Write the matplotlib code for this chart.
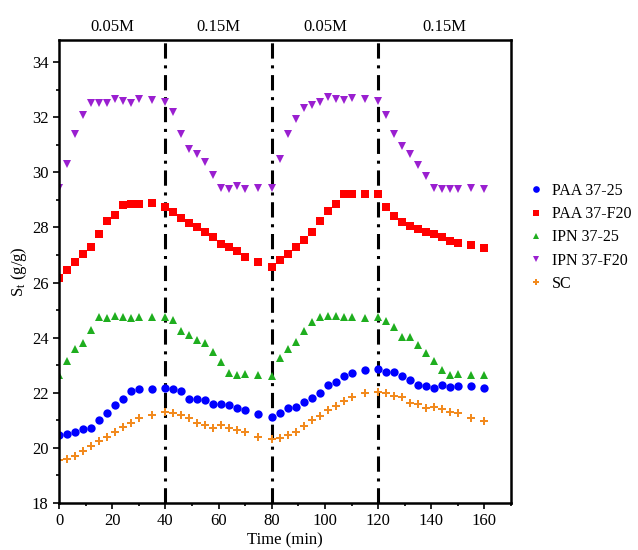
import matplotlib
matplotlib.use("Agg")
import matplotlib.pyplot as plt
from matplotlib.ticker import MultipleLocator

plt.rcParams['font.family'] = ['Liberation Serif', 'DejaVu Serif']
plt.rcParams['mathtext.fontset'] = 'custom'
plt.rcParams['mathtext.rm'] = 'Liberation Serif'
plt.rcParams['mathtext.it'] = 'Liberation Serif'

time = [0, 3, 6, 9, 12, 15, 18, 21, 24, 27, 30, 35, 40,
        43, 46, 49, 52, 55, 58, 61, 64, 67, 70, 75, 80,
        83, 86, 89, 92, 95, 98, 101, 104, 107, 110, 115, 120,
        123, 126, 129, 132, 135, 138, 141, 144, 147, 150, 155, 160]

paa_37_25 = [20.45, 20.52, 20.56, 20.70, 20.73, 21.02, 21.27, 21.57, 21.77, 22.08, 22.12, 22.13, 22.19,
             22.15, 22.05, 21.79, 21.78, 21.72, 21.60, 21.60, 21.55, 21.44, 21.38, 21.24, 21.13,
             21.27, 21.44, 21.50, 21.65, 21.82, 22.01, 22.28, 22.39, 22.60, 22.72, 22.83, 22.86,
             22.74, 22.74, 22.62, 22.46, 22.28, 22.26, 22.19, 22.27, 22.20, 22.25, 22.25, 22.16]

paa_37_f20 = [26.15, 26.45, 26.75, 27.05, 27.30, 27.75, 28.25, 28.45, 28.80, 28.85, 28.85, 28.90, 28.75,
              28.55, 28.35, 28.15, 28.00, 27.85, 27.65, 27.40, 27.28, 27.16, 26.92, 26.74, 26.55,
              26.83, 27.02, 27.30, 27.55, 27.85, 28.25, 28.60, 28.85, 29.20, 29.20, 29.20, 29.20,
              28.75, 28.40, 28.20, 28.05, 27.95, 27.85, 27.75, 27.65, 27.50, 27.43, 27.35, 27.25]

ipn_37_25 = [22.65, 23.16, 23.58, 23.79, 24.27, 24.74, 24.70, 24.78, 24.74, 24.71, 24.76, 24.74, 24.75,
             24.64, 24.25, 24.09, 23.92, 23.82, 23.48, 23.13, 22.72, 22.65, 22.68, 22.65, 22.61,
             23.25, 23.58, 23.86, 24.23, 24.57, 24.76, 24.80, 24.80, 24.74, 24.75, 24.73, 24.75,
             24.61, 24.38, 24.02, 24.02, 23.73, 23.43, 23.16, 22.82, 22.66, 22.68, 22.65, 22.65]

ipn_37_f20 = [29.42, 30.32, 31.38, 32.07, 32.52, 32.52, 32.52, 32.67, 32.58, 32.52, 32.67, 32.61, 32.55,
              32.21, 31.38, 30.86, 30.68, 30.38, 29.90, 29.44, 29.40, 29.50, 29.40, 29.44, 29.44,
              30.47, 31.38, 31.95, 32.33, 32.43, 32.57, 32.73, 32.67, 32.61, 32.70, 32.65, 32.58,
              32.10, 31.38, 30.95, 30.68, 30.26, 29.87, 29.44, 29.40, 29.40, 29.40, 29.44, 29.40]

sc = [19.55, 19.61, 19.70, 19.88, 20.07, 20.24, 20.41, 20.59, 20.74, 20.92, 21.10, 21.20, 21.30,
      21.26, 21.19, 21.09, 20.91, 20.82, 20.73, 20.84, 20.73, 20.65, 20.56, 20.39, 20.32,
      20.37, 20.48, 20.59, 20.78, 21.00, 21.15, 21.37, 21.51, 21.70, 21.83, 22.00, 22.03,
      21.98, 21.89, 21.83, 21.64, 21.60, 21.43, 21.49, 21.42, 21.31, 21.28, 21.08, 20.96]

switch_times = [40, 80, 120]
conc_labels = ['0.05M', '0.15M', '0.05M', '0.15M']
conc_label_x = [20, 60, 100, 145]

series = [
    ('PAA 37-25', paa_37_25, '#0000ff', 'o', 6.0),
    ('PAA 37-F20', paa_37_f20, '#ff0000', 's', 5.2),
    ('IPN 37-25', ipn_37_25, '#1fae1f', '^', 5.8),
    ('IPN 37-F20', ipn_37_f20, '#9a1fd0', 'v', 5.8),
    ('SC', sc, '#f28a1e', 'P', 5.2),
]

fig = plt.figure(figsize=(6.38, 5.5), dpi=100)
ax = fig.add_axes([0.0925, 0.0855, 0.7085, 0.8415])

for name, vals, col, mk, ms in series:
    ax.plot(time, vals, linestyle='none', marker=mk, color=col, markersize=ms,
            markeredgewidth=0, label=name)

for t in switch_times:
    ax.axvline(t, color='black', linestyle=(0, (5, 2.2, 1, 2.2)), linewidth=2.2, zorder=1)

ax.set_xlim(0, 170)
ax.set_ylim(18, 34.8)
ax.xaxis.set_major_locator(MultipleLocator(20))
ax.xaxis.set_minor_locator(MultipleLocator(10))
ax.yaxis.set_major_locator(MultipleLocator(2))
ax.yaxis.set_minor_locator(MultipleLocator(1))
ax.tick_params(which='both', direction='out', top=False, right=False, labelsize=12, width=1.2)
ax.tick_params(which='major', length=4)
ax.tick_params(which='minor', length=2.5)
for s in ax.spines.values():
    s.set_linewidth(1.8)

ax.set_xlabel('Time (min)', fontsize=12, labelpad=2)
ax.set_ylabel(r'S$_\mathrm{t}$ (g/g)', fontsize=12, labelpad=2)

for lab, xx in zip(conc_labels, conc_label_x):
    ax.text(xx, 1.012, lab, transform=ax.get_xaxis_transform(), ha='center', va='bottom', fontsize=12)

ax.legend(loc='upper left', bbox_to_anchor=(1.024, 0.705), frameon=False, fontsize=11.5,
          handlelength=1.0, handletextpad=0.5, labelspacing=0.45, markerscale=0.8,
          borderaxespad=0.0)

fig.savefig('out.png', dpi=100)
